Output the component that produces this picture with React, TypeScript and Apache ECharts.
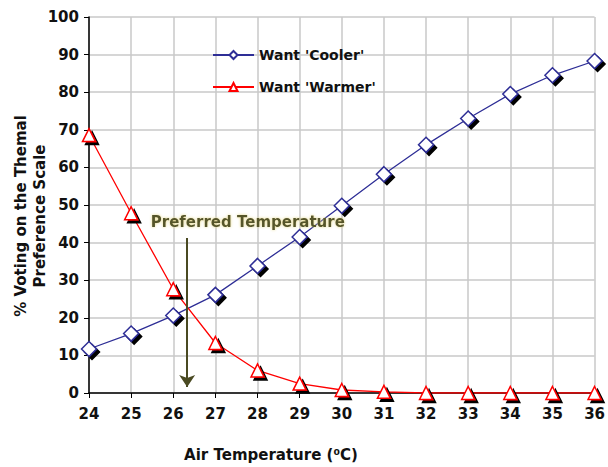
import React, { useEffect, useRef } from "react";
import * as echarts from "echarts";

const temperatures = [24, 25, 26, 27, 28, 29, 30, 31, 32, 33, 34, 35, 36];
const wantCooler = [11.7, 15.8, 20.6, 26.1, 33.8, 41.5, 49.8, 58.2, 66, 73, 79.5, 84.5, 88.3];
const wantWarmer = [68.6, 47.8, 27.6, 13.3, 6.0, 2.5, 0.8, 0.3, 0, 0, 0, 0, 0];
const seriesNames = ["Want 'Cooler'", "Want 'Warmer'"];
const preferredTemp = 26.33;
const arrowFrom = 41.2;
const arrowTo = 1.6;
const annotationText = "Preferred Temperature";
const yAxisTitle = "% Voting on the Themal\nPreference Scale";
const xAxisTitle = "Air Temperature (\u2070C)";

const FONT = "'DejaVu Sans', Verdana, sans-serif";

export default function App() {
  const ref = useRef<HTMLDivElement>(null);
  useEffect(() => {
    if (!ref.current) return;
    const chart = echarts.init(ref.current, undefined, { renderer: "svg" });
    const markerStyle = (c: string) => ({
      color: "#ffffff",
      borderColor: c,
      borderWidth: 1.5,
      shadowColor: "#000000",
      shadowBlur: 0,
      shadowOffsetX: 3,
      shadowOffsetY: 3,
    });
    chart.setOption({
      animation: false,
      backgroundColor: "#ffffff",
      grid: { left: 89, right: 10, top: 17, bottom: 74 },
      legend: {
        data: seriesNames,
        orient: "vertical",
        left: 212,
        top: 48,
        padding: 0,
        itemWidth: 41,
        itemHeight: 10,
        itemGap: 18,
        textStyle: { fontFamily: FONT, fontWeight: "bold", fontSize: 14, color: "#111" },
        itemStyle: { shadowColor: "transparent", shadowOffsetX: 0, shadowOffsetY: 0 },
      },
      xAxis: {
        type: "value",
        min: 24,
        max: 36,
        interval: 1,
        axisLine: { lineStyle: { color: "#000", width: 1.5 } },
        axisTick: { show: true, length: 5, lineStyle: { color: "#000" } },
        axisLabel: { fontFamily: FONT, fontWeight: "bold", fontSize: 15, color: "#111", margin: 13 },
        splitLine: { show: true, lineStyle: { color: "#c8c8c8", width: 1.5 } },
      },
      yAxis: {
        type: "value",
        min: 0,
        max: 100,
        interval: 10,
        axisLine: { show: true, lineStyle: { color: "#000", width: 1.5 } },
        axisTick: { show: true, length: 5, lineStyle: { color: "#000" } },
        axisLabel: { fontFamily: FONT, fontWeight: "bold", fontSize: 15, color: "#111", margin: 10 },
        splitLine: { show: true, lineStyle: { color: "#c8c8c8", width: 1.5 } },
      },
      series: [
        {
          name: seriesNames[0],
          type: "line",
          data: temperatures.map((t, i) => [t, wantCooler[i]]),
          symbol: "diamond",
          symbolSize: 15,
          lineStyle: { color: "#2e2e96", width: 1.3 },
          itemStyle: markerStyle("#2e2e96"),
          color: "#2e2e96",
        },
        {
          name: seriesNames[1],
          type: "line",
          data: temperatures.map((t, i) => [t, wantWarmer[i]]),
          symbol: "triangle",
          symbolSize: 13,
          lineStyle: { color: "#ff0000", width: 1.3 },
          itemStyle: markerStyle("#ff0000"),
          color: "#ff0000",
        },
        {
          name: "annotation",
          type: "line",
          data: [],
          silent: true,
          markLine: {
            silent: true,
            symbol: ["none", "arrow"],
            symbolSize: 12,
            label: { show: false },
            lineStyle: { color: "#4a4a22", width: 2, type: "solid" },
            data: [[{ coord: [preferredTemp, arrowFrom] }, { coord: [preferredTemp, arrowTo] }]],
          },
          markPoint: {
            silent: true,
            symbol: "rect",
            symbolSize: 0,
            label: {
              show: true,
              position: "inside",
              formatter: annotationText,
              fontFamily: FONT,
              fontWeight: "bold",
              fontSize: 15,
              color: "#55552a",
              textShadowColor: "#e6d98a",
              textShadowBlur: 3,
            },
            data: [{ coord: [27.77, 45.6] }],
          },
        },
      ],
      graphic: [
        {
          type: "text",
          x: 30,
          y: 216,
          rotation: Math.PI / 2,
          style: {
            text: yAxisTitle,
            font: `bold 15px ${FONT}`,
            fill: "#111",
            textAlign: "center",
            textVerticalAlign: "middle",
            lineHeight: 19,
          },
        },
        {
          type: "text",
          x: 271,
          y: 455,
          style: {
            text: xAxisTitle,
            font: `bold 15px ${FONT}`,
            fill: "#111",
            textAlign: "center",
            textVerticalAlign: "middle",
          },
        },
      ],
    });
    return () => chart.dispose();
  }, []);
  return (
    <div
      ref={ref}
      style={{ position: "fixed", left: 0, top: 0, width: 608, height: 467 }}
    />
  );
}
